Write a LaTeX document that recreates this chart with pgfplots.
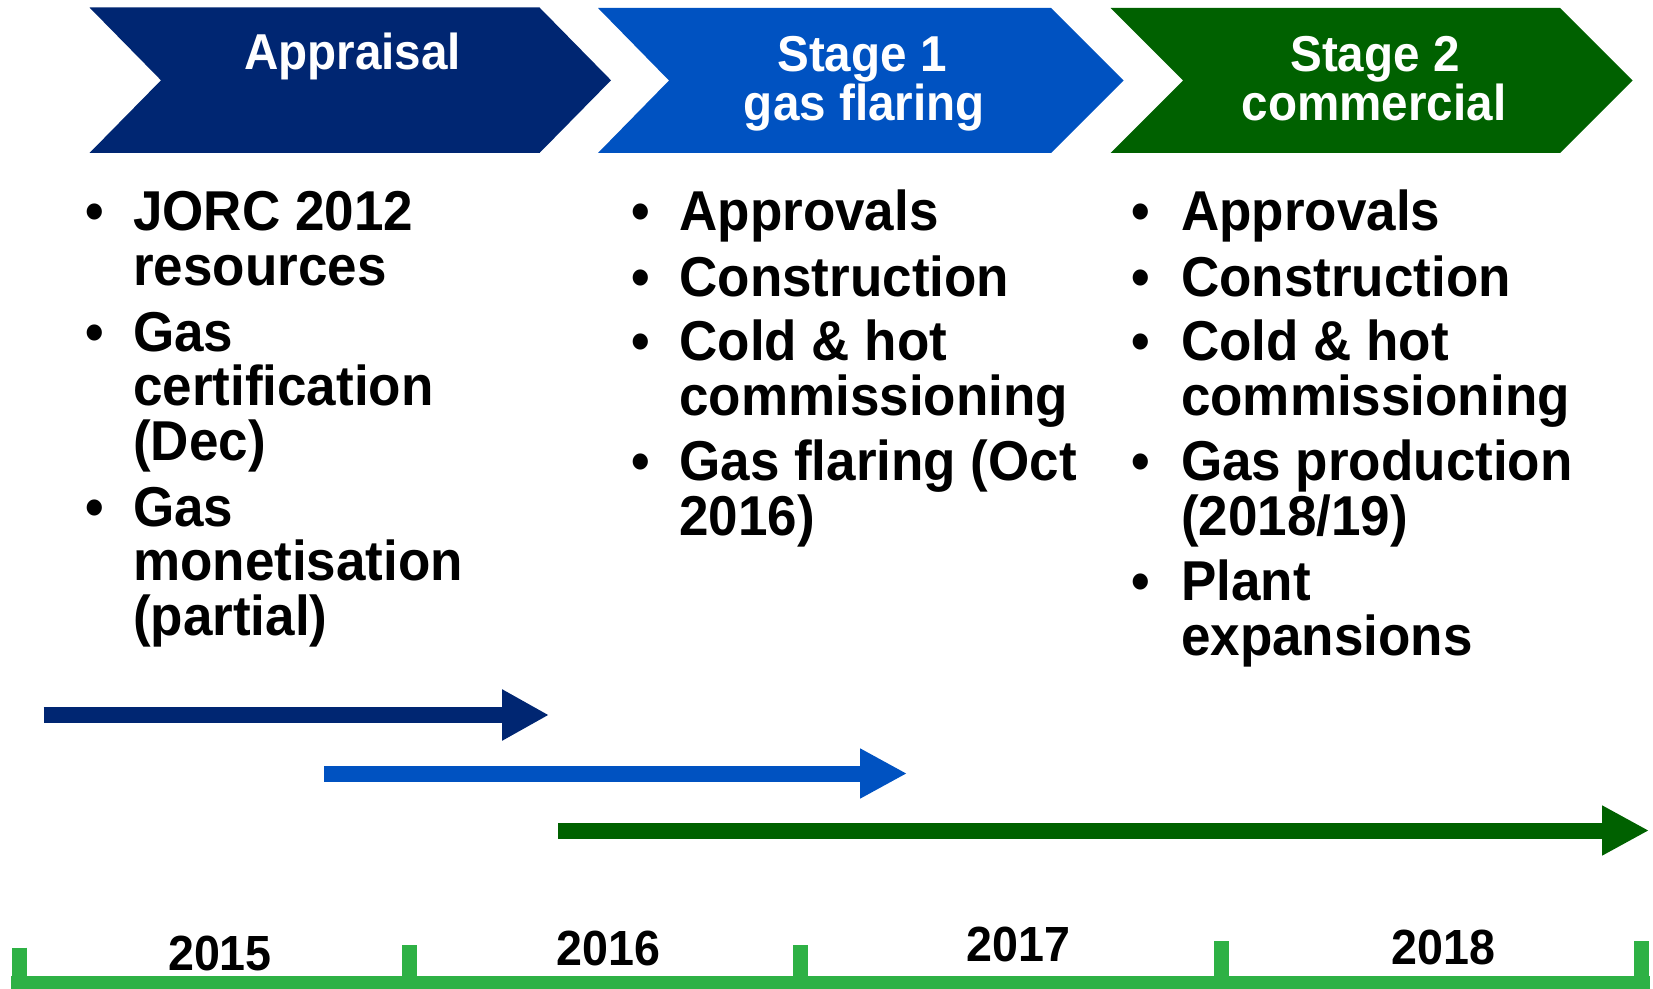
\documentclass[border=0pt]{standalone}
\usepackage{pgfplots}
\pgfplotsset{compat=1.18}
\usepackage{fontspec}
\setmainfont{Liberation Sans}
\usepackage{graphicx}
\usetikzlibrary{arrows.meta}
\definecolor{navy}{HTML}{002672}
\definecolor{midblue}{HTML}{0052C1}
\definecolor{dgreen}{HTML}{006100}
\definecolor{lgreen}{HTML}{2EB145}
\newcommand{\vs}[1]{\scalebox{1}[1.06]{#1}}
\tikzset{
  body/.style={anchor=base west,inner sep=0pt,font=\fontsize{26.5}{30}\selectfont\bfseries},
  head/.style={anchor=base,inner sep=0pt,text=white,font=\fontsize{23.8}{28}\selectfont\bfseries},
  yr/.style={anchor=base,inner sep=0pt,font=\fontsize{23.3}{28}\selectfont\bfseries},
}
\begin{document}
\begin{tikzpicture}
\begin{axis}[width=826.5pt,height=494.5pt,scale only axis,
  xmin=0,xmax=1653,ymin=0,ymax=989,y dir=reverse,hide axis,clip=false]
% chevrons
\addplot[fill=navy,draw=none] coordinates {(89.5,7.5) (539.5,7.5) (611,80.3) (539.5,153) (89.5,153) (161,80.3)} -- cycle;
\addplot[fill=midblue,draw=none] coordinates {(598,8) (1051,8) (1123.5,80.5) (1051,153) (598,153) (669,80.5)} -- cycle;
\addplot[fill=dgreen,draw=none] coordinates {(1110.5,8) (1560,8) (1632.5,80.5) (1560,153) (1110.5,153) (1183,80.5)} -- cycle;
% headers
\node[head] at (axis cs:352.5,70) {\vs{Appraisal}};
\node[head] at (axis cs:862,71.7) {\vs{Stage 1}};
\node[head] at (axis cs:864.3,120.7) {\vs{gas flaring}};
\node[head] at (axis cs:1375,71.7) {\vs{Stage 2}};
\node[head] at (axis cs:1374,120.7) {\vs{commercial}};
% left column
\node[body] at (axis cs:84.8,230.9) {\vs{•}};
\node[body] at (axis cs:84.8,351.1) {\vs{•}};
\node[body] at (axis cs:84.8,526.0) {\vs{•}};
\node[body] at (axis cs:132.8,230.9) {\vs{JORC 2012}};
\node[body] at (axis cs:132.8,285.7) {\vs{resources}};
\node[body] at (axis cs:132.8,351.1) {\vs{Gas}};
\node[body] at (axis cs:132.8,405.9) {\vs{certification}};
\node[body] at (axis cs:132.8,460.7) {\vs{(Dec)}};
\node[body] at (axis cs:132.8,526.0) {\vs{Gas}};
\node[body] at (axis cs:132.8,580.8) {\vs{monetisation}};
\node[body] at (axis cs:132.8,635.7) {\vs{(partial)}};
% middle column
\node[body] at (axis cs:630.8,230.9) {\vs{•}};
\node[body] at (axis cs:630.8,296.2) {\vs{•}};
\node[body] at (axis cs:630.8,360.5) {\vs{•}};
\node[body] at (axis cs:630.8,480.7) {\vs{•}};
\node[body] at (axis cs:679,230.9) {\vs{Approvals}};
\node[body] at (axis cs:679,296.2) {\vs{Construction}};
\node[body] at (axis cs:679,360.5) {\vs{Cold \& hot}};
\node[body] at (axis cs:679,415.4) {\vs{commissioning}};
\node[body] at (axis cs:679,480.7) {\vs{Gas flaring (Oct}};
\node[body] at (axis cs:679,535.5) {\vs{2016)}};
% right column
\node[body] at (axis cs:1131.4,230.9) {\vs{•}};
\node[body] at (axis cs:1131.4,296.2) {\vs{•}};
\node[body] at (axis cs:1131.4,360.5) {\vs{•}};
\node[body] at (axis cs:1131.4,480.7) {\vs{•}};
\node[body] at (axis cs:1131.4,600.9) {\vs{•}};
\node[body] at (axis cs:1180.7,230.9) {\vs{Approvals}};
\node[body] at (axis cs:1180.7,296.2) {\vs{Construction}};
\node[body] at (axis cs:1180.7,360.5) {\vs{Cold \& hot}};
\node[body] at (axis cs:1180.7,415.4) {\vs{commissioning}};
\node[body] at (axis cs:1180.7,480.7) {\vs{Gas production}};
\node[body] at (axis cs:1180.7,535.5) {\vs{(2018/19)}};
\node[body] at (axis cs:1180.7,600.9) {\vs{Plant}};
\node[body] at (axis cs:1180.7,655.7) {\vs{expansions}};
% phase arrows
\addplot[navy,line width=8pt,-{Triangle[length=23.5pt,width=24pt]}] coordinates {(43.5,715) (549,715)};
\addplot[midblue,line width=8pt,-{Triangle[length=23.5pt,width=23.5pt]}] coordinates {(324,773.5) (907,773.5)};
\addplot[dgreen,line width=8pt,-{Triangle[length=23.5pt,width=23.5pt]}] coordinates {(558,830.5) (1649,830.5)};
% timeline
\addplot[lgreen,line width=6.5pt] coordinates {(11,982.5) (1649.5,982.5)};
\addplot[lgreen,line width=7.5pt] coordinates {(19,947.7) (19,989)};
\addplot[lgreen,line width=7.5pt] coordinates {(409,945) (409,989)};
\addplot[lgreen,line width=7.5pt] coordinates {(800,945) (800,989)};
\addplot[lgreen,line width=7.5pt] coordinates {(1221,941) (1221,989)};
\addplot[lgreen,line width=7.5pt] coordinates {(1641.5,941) (1641.5,989)};
% years
\node[yr] at (axis cs:220,970) {\vs{2015}};
\node[yr] at (axis cs:608.4,965) {\vs{2016}};
\node[yr] at (axis cs:1018.3,961.7) {\vs{2017}};
\node[yr] at (axis cs:1443.8,964.5) {\vs{2018}};
\end{axis}
\pgfresetboundingbox
\path[use as bounding box] (current axis.south west) rectangle (current axis.north east);
\end{tikzpicture}
\end{document}
